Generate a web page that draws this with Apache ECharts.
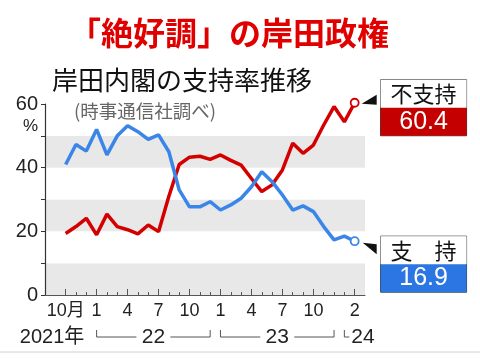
<!DOCTYPE html>
<html><head><meta charset="utf-8">
<script src="https://cdn.jsdelivr.net/npm/echarts@6/dist/echarts.min.js"></script>
<style>html,body{margin:0;padding:0;background:#fff}#c{width:480px;height:360px}</style>
</head><body><div id="c"></div>
<script>
const months = ['2021-10','2021-11','2021-12',
  '2022-01','2022-02','2022-03','2022-04','2022-05','2022-06','2022-07','2022-08','2022-09','2022-10','2022-11','2022-12',
  '2023-01','2023-02','2023-03','2023-04','2023-05','2023-06','2023-07','2023-08','2023-09','2023-10','2023-11','2023-12',
  '2024-01','2024-02'];
const padBefore = ['2021-08','2021-09'];
const padAfter = ['2024-03'];
const categories = padBefore.concat(months, padAfter);
const support = [41.0, 47.3, 45.2, 52.0, 44.0, 50.0, 53.2, 51.3, 48.9, 50.3, 45.0, 33.0, 27.7, 27.7, 29.3, 26.7, 28.3, 30.4, 34.0, 38.7, 35.6, 31.4, 26.7, 28.0, 26.2, 21.5, 17.3, 18.5, 16.9];
const disapproval = [19.3, 21.5, 24.1, 18.9, 25.4, 21.5, 20.5, 19.2, 22.0, 19.9, 31.0, 41.0, 43.3, 43.6, 42.6, 44.0, 42.3, 40.8, 36.6, 32.5, 34.6, 39.3, 47.7, 44.5, 47.1, 53.4, 59.2, 54.4, 60.4];
const tickLabels = {'2021-10':'10月','2022-01':'1','2022-04':'4','2022-07':'7','2022-10':'10',
  '2023-01':'1','2023-04':'4','2023-07':'7','2023-10':'10','2024-02':'2'};
const yearStart = {label:'2021年', at:'2021-12'};
const yearGroups = [{label:'22', from:'2022-01', to:'2022-12'},{label:'23', from:'2023-01', to:'2023-12'},{label:'24', from:'2024-01', to:null}];
const yTickLabels = [0, 20, 40, 60];

const RED = '#d40000', BLUE = '#3a86e8';
const NUM = 'Liberation Sans, Noto Sans CJK JP, sans-serif';
const CJK = 'Noto Sans CJK JP, sans-serif';

const chart = echarts.init(document.getElementById('c'));

function seriesData(vals, title, lineColor, boxColor, offY) {
  const last = vals.length - 1;
  return vals.map((v, i) => i === last ? {
    value: [months[i], v], symbol: 'circle', symbolSize: 8,
    itemStyle: {color: '#fff', borderColor: lineColor, borderWidth: 1.8},
    label: {
      show: true, position: 'right', distance: 21, offset: [0, offY], padding: 0,
      borderColor: '#333', borderWidth: 1,
      formatter: p => '{t|' + title + '}\n{v|' + p.value[1].toFixed(1) + '}',
      rich: {
        t: {width: 86, height: 28, lineHeight: 28, align: 'center', backgroundColor: '#fff', color: '#111', fontSize: 22, fontFamily: CJK},
        v: {width: 86, height: 28, lineHeight: 28, align: 'center', backgroundColor: boxColor, color: '#fff', fontSize: 25, fontFamily: NUM}
      }
    }
  } : [months[i], v]);
}

const xBase = {type: 'category', data: categories, boundaryGap: false, position: 'bottom', gridIndex: 0};

chart.setOption({
  animation: false,
  backgroundColor: '#fff',
  title: [
    {text: '「絶好調」の岸田政権', left: 64, top: 12, textStyle: {color: '#e00000', fontSize: 32, fontWeight: 'bold', fontFamily: CJK}},
    {text: '岸田内閣の支持率推移', left: 47, top: 62, textStyle: {color: '#111', fontSize: 26, fontWeight: 'normal', fontFamily: CJK}},
    {text: '(時事通信社調べ)', left: 69, top: 97, textStyle: {color: '#666', fontSize: 18.5, fontWeight: 'normal', fontFamily: CJK}}
  ],
  grid: {left: 45, right: 115, top: 104, bottom: 65},
  xAxis: [
    Object.assign({}, xBase, {
      axisLine: {show: true, lineStyle: {color: '#555', width: 1}},
      axisTick: {show: true, inside: true, length: 3, lineStyle: {color: '#555'}, interval: (i, v) => months.indexOf(v) >= 0},
      axisLabel: {show: false}, splitLine: {show: false}
    }),
    Object.assign({}, xBase, {
      axisLine: {show: false},
      axisTick: {show: true, inside: true, length: 6, lineStyle: {color: '#555'}, interval: (i, v) => v in tickLabels},
      axisLabel: {show: true, interval: (i, v) => v in tickLabels, formatter: v => tickLabels[v] || '', margin: 7,
        color: '#222', fontSize: 18, fontFamily: NUM},
      splitLine: {show: false}
    })
  ],
  yAxis: {
    type: 'value', min: 0, max: 60, interval: 10,
    axisLine: {show: true, lineStyle: {color: '#333', width: 1.2}},
    axisTick: {show: true, inside: false, length: 4, lineStyle: {color: '#333'}},
    axisLabel: {formatter: v => yTickLabels.indexOf(v) >= 0 ? String(v) : '', color: '#222', fontSize: 20, fontFamily: NUM, margin: 7},
    splitLine: {show: false},
    splitArea: {show: true, areaStyle: {color: ['#e8e8e8', '#ffffff']}}
  },
  series: [
    {type: 'line', name: '不支持', xAxisIndex: 0, clip: false, data: seriesData(disapproval, '不支持', RED, '#c40000', 5),
      color: RED, lineStyle: {width: 3.5, color: RED}, symbol: 'circle', symbolSize: 0, showAllSymbol: true, z: 3},
    {type: 'line', name: '支持', xAxisIndex: 0, clip: false, data: seriesData(support, '支　持', BLUE, '#2b76e2', 23),
      color: BLUE, lineStyle: {width: 3.5, color: BLUE}, symbol: 'circle', symbolSize: 0, showAllSymbol: true, z: 4}
  ]
});

function px(cat) { return chart.convertToPixel({xAxisIndex: 0}, cat); }
function pt(cat, v) { return chart.convertToPixel({xAxisIndex: 0, yAxisIndex: 0}, [cat, v]); }

const g = [];
const yRow = 337, yUp = 330;
const lineStyle = {stroke: '#555', lineWidth: 1};
g.push({type: 'text', style: {text: yearStart.label, x: px(yearStart.at) - 2, y: yRow, align: 'right', verticalAlign: 'middle', fontSize: 20, fontFamily: NUM, fill: '#222'}});
yearGroups.forEach(gr => {
  const x1 = px(gr.from);
  if (gr.to) {
    const x2 = px(gr.to);
    const cx = (x1 + x2) / 2, half = 17;
    g.push({type: 'polyline', shape: {points: [[x1, yUp], [x1, yRow], [cx - half, yRow]]}, style: lineStyle});
    g.push({type: 'polyline', shape: {points: [[cx + half, yRow], [x2, yRow], [x2, yUp]]}, style: lineStyle});
    g.push({type: 'text', style: {text: gr.label, x: cx, y: yRow, align: 'center', verticalAlign: 'middle', fontSize: 21, fontFamily: NUM, fill: '#222'}});
  } else {
    g.push({type: 'polyline', shape: {points: [[x1, yUp], [x1, yRow], [x1 + 5, yRow]]}, style: lineStyle});
    g.push({type: 'text', style: {text: gr.label, x: x1 + 7, y: yRow, align: 'left', verticalAlign: 'middle', fontSize: 21, fontFamily: NUM, fill: '#222'}});
  }
});
const p60 = pt(months[0], 60);
g.push({type: 'text', style: {text: '%', x: 38, y: p60[1] + 22, align: 'right', verticalAlign: 'middle', fontSize: 17, fontFamily: NUM, fill: '#222'}});
const lastM = months[months.length - 1];
const pr = pt(lastM, disapproval[disapproval.length - 1]);
g.push({type: 'polygon', shape: {points: [[pr[0] + 7, pr[1] + 1], [pr[0] + 22, pr[1] - 8], [pr[0] + 22, pr[1] + 2]]}, style: {fill: '#111'}, z: 10});
const pb = pt(lastM, support[support.length - 1]);
g.push({type: 'polygon', shape: {points: [[pb[0] + 8, pb[1] + 1.5], [pb[0] + 22, pb[1] + 3], [pb[0] + 22, pb[1] + 13]]}, style: {fill: '#111'}, z: 10});
g.push({type: 'line', shape: {x1: 0, y1: 352, x2: 480, y2: 352}, style: {stroke: '#d0d0d0', lineWidth: 1}});

chart.setOption({graphic: g});
</script></body></html>
